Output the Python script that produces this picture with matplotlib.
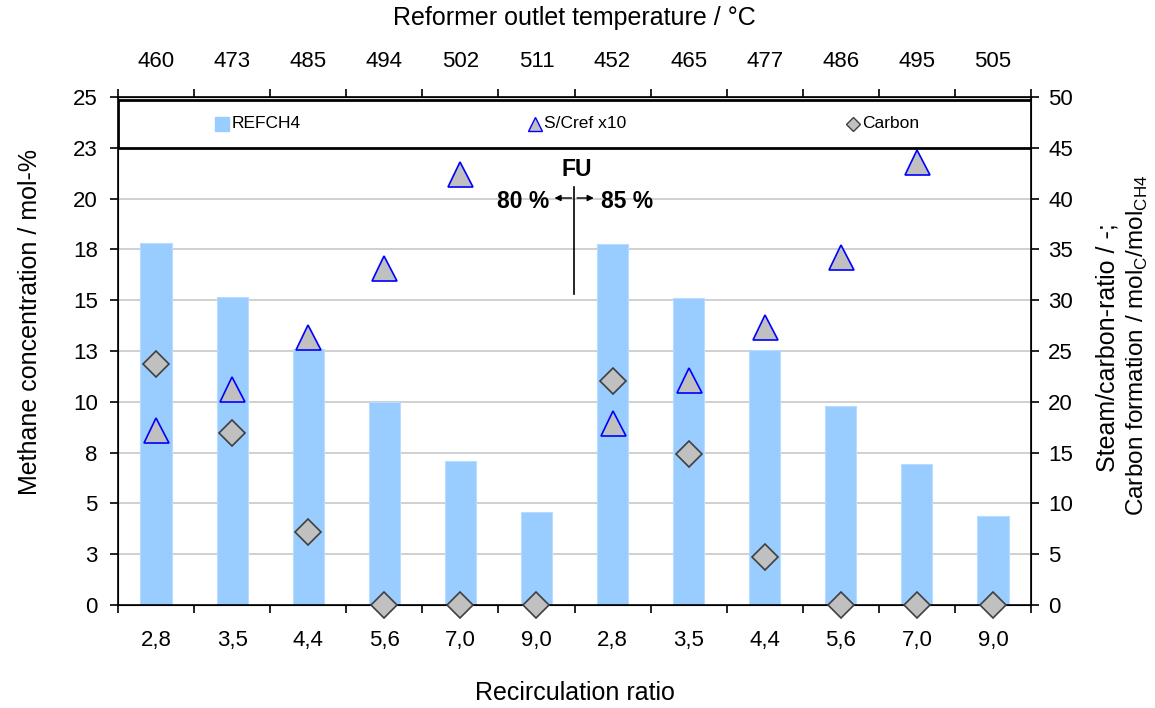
import matplotlib
matplotlib.use("Agg")
import matplotlib.pyplot as plt
import numpy as np
from matplotlib.patches import Rectangle
from matplotlib.ticker import FixedLocator

plt.rcParams['font.family'] = ['Liberation Sans', 'DejaVu Sans']

# ---- data ----
recirc_labels = ["2,8", "3,5", "4,4", "5,6", "7,0", "9,0",
                 "2,8", "3,5", "4,4", "5,6", "7,0", "9,0"]
temp_labels = ["460", "473", "485", "494", "502", "511",
               "452", "465", "477", "486", "495", "505"]
refch4 = [17.8, 15.15, 12.6, 10.0, 7.1, 4.6,
          17.75, 15.1, 12.56, 9.77, 6.93, 4.40]
sc_ref_x10 = [17.2, 21.3, 26.4, 33.2, 42.4, np.nan,
              17.9, 22.1, 27.4, 34.3, 43.6, np.nan]
carbon = [23.7, 16.9, 7.2, 0, 0, 0,
          22.0, 14.9, 4.7, 0, 0, 0]
left_ticks = [0, 2.5, 5, 7.5, 10, 12.5, 15, 17.5, 20, 22.5, 25]
left_tick_labels = ["0", "3", "5", "8", "10", "13", "15", "18", "20", "23", "25"]
right_ticks = [0, 5, 10, 15, 20, 25, 30, 35, 40, 45, 50]

W, H = 1155, 708
fig = plt.figure(figsize=(W / 100, H / 100), dpi=100)
ax = fig.add_axes([118 / W, 1 - 605 / H, (1031 - 118) / W, (605 - 97) / H])

x = np.arange(len(recirc_labels))
FS = 16
LFS = 18

# bars
ax.bar(x, refch4, width=0.41, color='#99CCFF', edgecolor='#B8DCFF', linewidth=0.8, zorder=2)
ax.set_xlim(-0.5, len(x) - 0.5)
ax.set_ylim(0, 25)

# grid
for yv in left_ticks[1:-1]:
    ax.axhline(yv, color='#C8C8C8', lw=1.2, zorder=1)

# left axis
ax.set_yticks(left_ticks)
ax.set_yticklabels(left_tick_labels, fontsize=FS)
ax.tick_params(axis='y', direction='out', length=6, width=1.2, pad=8.5)

# bottom axis
ax.xaxis.set_major_locator(FixedLocator(x))
ax.set_xticklabels(recirc_labels, fontsize=FS)
ax.xaxis.set_minor_locator(FixedLocator(np.arange(-0.5, len(x), 1.0)))
ax.tick_params(axis='x', which='major', length=0, pad=18)
ax.tick_params(axis='x', which='minor', length=6, width=1.2, direction='out')
for s in ['left', 'bottom', 'right', 'top']:
    ax.spines[s].set_linewidth(1.2)

# top axis
top = ax.secondary_xaxis('top')
top.xaxis.set_major_locator(FixedLocator(x))
top.set_xticklabels(temp_labels, fontsize=FS)
top.xaxis.set_minor_locator(FixedLocator(np.arange(-0.5, len(x), 1.0)))
top.tick_params(axis='x', which='major', length=0, pad=18)
top.tick_params(axis='x', which='minor', length=6, width=1.2, direction='out')

# right axis
ax2 = ax.twinx()
ax2.set_ylim(0, 50)
ax2.set_yticks(right_ticks)
ax2.tick_params(axis='y', direction='out', length=6, width=1.2, labelsize=FS, pad=6.5)
ax2.plot(x, sc_ref_x10, linestyle='none', marker='^', markersize=18,
         markerfacecolor='#C0C0C0', markeredgecolor='#0000FF', markeredgewidth=1.2,
         zorder=4, clip_on=False)
ax2.plot(x, carbon, linestyle='none', marker='D', markersize=13,
         markerfacecolor='#C0C0C0', markeredgecolor='#404040', markeredgewidth=1.2,
         zorder=5, clip_on=False)

# legend box
ax2.add_patch(Rectangle((0, (22.5) / 25), 1, (24.85 - 22.5) / 25, transform=ax.transAxes,
                        facecolor='white', edgecolor='black', lw=2, zorder=6))
ly = (605 - 124) / 508
items = [((222 - 118) / 913, 's', '#99CCFF', '#99CCFF', 10, 'REFCH4'),
         ((535 - 118) / 913, '^', '#C0C0C0', '#0000FF', 10, 'S/Cref x10'),
         ((853 - 118) / 913, 'D', '#C0C0C0', '#404040', 7.5, 'Carbon')]
for xf, mk, fc, ec, ms, lab in items:
    ax2.plot([xf], [ly], marker=mk, markersize=ms, markerfacecolor=fc, markeredgecolor=ec,
             markeredgewidth=1, transform=ax.transAxes, zorder=7, clip_on=False, linestyle='none')
    ax2.text(xf + 0.01, ly, lab, transform=ax.transAxes, fontsize=12.5, va='center',
             ha='left', zorder=7)

# FU annotation
ax.plot([5.498, 5.498], [15.32, 20.58], color='black', lw=1.2, zorder=3)
ax.annotate('', xy=(5.2, 20.03), xytext=(5.498, 20.03),
            arrowprops=dict(arrowstyle='-|>', color='black', lw=1, mutation_scale=9), zorder=3)
ax.annotate('', xy=(5.79, 20.03), xytext=(5.498, 20.03),
            arrowprops=dict(arrowstyle='-|>', color='black', lw=1, mutation_scale=9), zorder=3)
ax.text(5.53, 21.43, "FU", fontsize=16.5, fontweight='bold', ha='center', va='center', zorder=3)
ax.text(5.165, 19.87, "80 %", fontsize=16.5, fontweight='bold', ha='right', va='center', zorder=3)
ax.text(5.845, 19.87, "85 %", fontsize=16.5, fontweight='bold', ha='left', va='center', zorder=3)

# axis labels
fig.text(574.5 / W, 1 - 18 / H, "Reformer outlet temperature / °C", fontsize=LFS,
         ha='center', va='center')
fig.text(574.5 / W, 1 - 693 / H, "Recirculation ratio", fontsize=LFS,
         ha='center', va='center')
fig.text(30 / W, 1 - 322 / H, "Methane concentration / mol-%", rotation=90,
         fontsize=LFS, ha='center', va='center')
fig.text(1108 / W, 1 - 348 / H, "Steam/carbon-ratio / -;", rotation=90,
         fontsize=LFS, ha='center', va='center')
fig.text(1137 / W, 1 - 345 / H, r"Carbon formation / mol$_\mathregular{C}$/mol$_\mathregular{CH4}$",
         rotation=90, fontsize=17.5, ha='center', va='center')

fig.savefig("out.png", dpi=100)
